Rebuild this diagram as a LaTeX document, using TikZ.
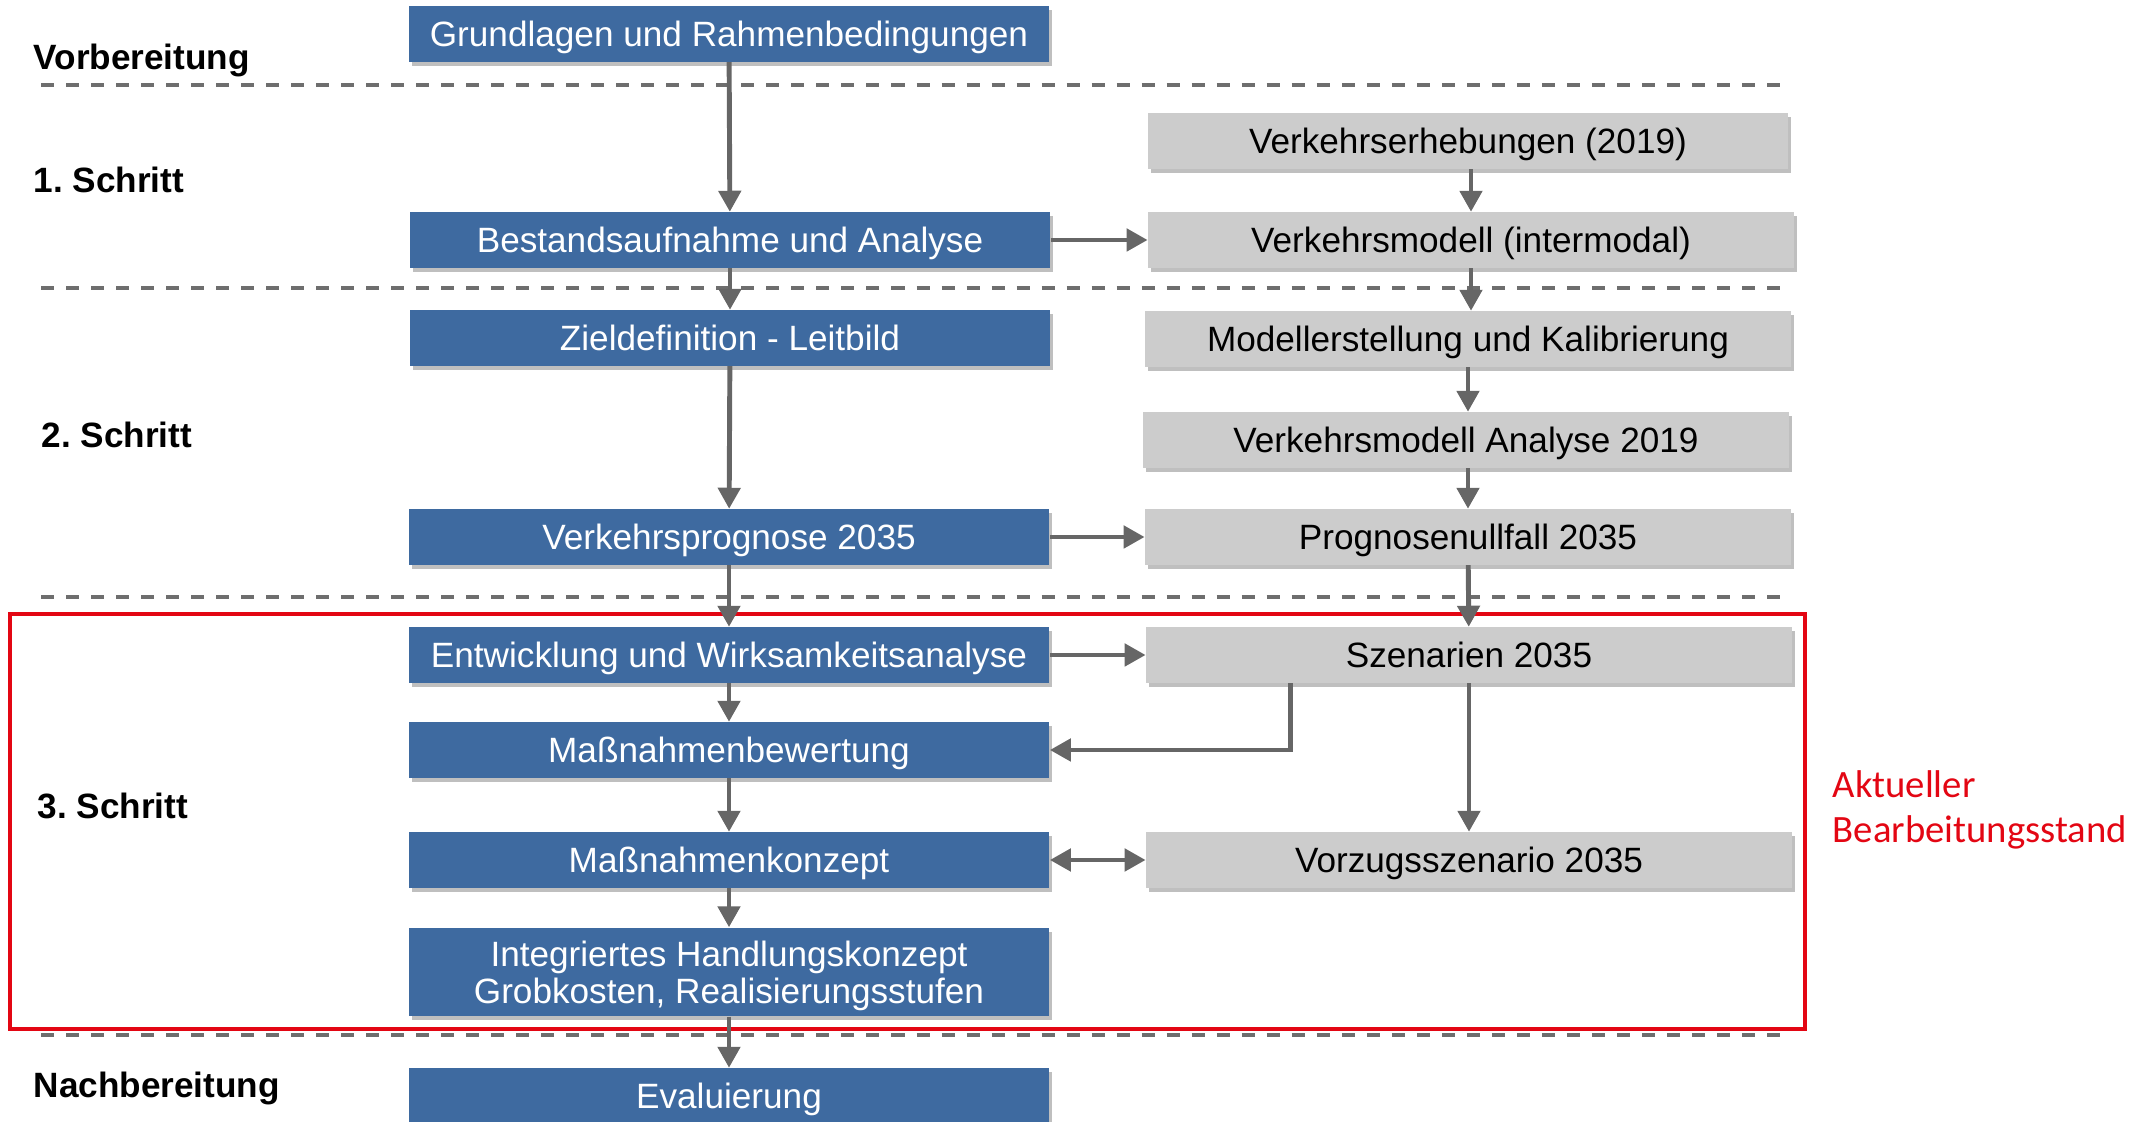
\documentclass[tikz,border=0pt]{standalone}
\usepackage{fontspec}
\setmainfont{Liberation Sans}
\newfontfamily\calibrifont{Carlito}
\usepackage{xcolor}
\usepackage{tikz}
\usetikzlibrary{arrows.meta,positioning,calc,shadows}
\definecolor{boxblue}{RGB}{62,106,160}
\definecolor{boxgray}{RGB}{204,204,204}
\definecolor{arrowgray}{RGB}{102,102,102}
\definecolor{phasegray}{RGB}{110,110,110}
\definecolor{markred}{RGB}{227,6,19}
\frenchspacing

\begin{document}
\begin{tikzpicture}[
    x=0.01cm, y=-0.01cm,
    bluebox/.style={fill=boxblue, text=white, minimum width=6.4cm, minimum height=0.55cm, inner sep=0pt,
        font=\fontsize{10}{10.5}\selectfont, align=center, text height=7.2pt, text depth=0pt,
        drop shadow={shadow xshift=0.03cm, shadow yshift=-0.04cm, opacity=0.25, fill=black}},
    graybox/.style={fill=boxgray, text=black, minimum width=6.45cm, minimum height=0.55cm, inner sep=0pt,
        font=\fontsize{10}{12}\selectfont, text height=7.2pt, text depth=0pt,
        drop shadow={shadow xshift=0.03cm, shadow yshift=-0.04cm, opacity=0.25, fill=black}},
    phaselabel/.style={font=\bfseries\fontsize{10}{12}\selectfont, text=black, anchor=west, inner sep=0pt,
        text height=7.2pt, text depth=0pt},
    phase/.style={draw=phasegray, line width=1.1pt, dash pattern=on 0.13cm off 0.12cm},
    arr/.style={draw=arrowgray, line width=1.4pt, -{Triangle[width=0.22cm, length=0.21cm]}},
    dblarr/.style={draw=arrowgray, line width=1.4pt, {Triangle[width=0.22cm, length=0.21cm]}-{Triangle[width=0.22cm, length=0.21cm]}}
]
    \useasboundingbox (0,0) rectangle (2144,1122);

    % Phase separators and labels
    \foreach \y in {85, 288, 597, 1035} {
        \draw[phase] (41,\y) -- (1788,\y);
    }
    \node[phaselabel] (l_vor) at (33, 57) {Vorbereitung};
    \node[phaselabel] (l_s1) at (33, 180) {1. Schritt};
    \node[phaselabel] (l_s2) at (41, 435) {2. Schritt};
    \node[phaselabel] (l_s3) at (37, 806) {3. Schritt};
    \node[phaselabel] (l_nach) at (33, 1085) {Nachbereitung};

    % Current status frame
    \draw[markred, line width=1.4pt] (10,614) rectangle (1805,1029);
    \node[text=markred, anchor=west, align=left, inner sep=0pt, font=\calibrifont\fontsize{11}{12.8}\selectfont] (status) at (1832, 810) {Aktueller\\Bearbeitungsstand};

    % Main process (left column)
    \node[bluebox] (grund) at (729, 34) {Grundlagen und Rahmenbedingungen};
    \node[bluebox] (bestand) at (730, 240) {Bestandsaufnahme und Analyse};
    \node[bluebox] (ziel) at (730, 338) {Zieldefinition - Leitbild};
    \node[bluebox] (prognose) at (729, 537) {Verkehrsprognose 2035};
    \node[bluebox] (entw) at (729, 655) {Entwicklung und Wirksamkeitsanalyse};
    \node[bluebox] (bewert) at (729, 750) {Maßnahmenbewertung};
    \node[bluebox] (konzept) at (729, 860) {Maßnahmenkonzept};
    \node[bluebox, minimum height=0.88cm, text height=17.7pt] (integr) at (729, 972) {Integriertes Handlungskonzept\\Grobkosten, Realisierungsstufen};
    \node[bluebox] (eval) at (729, 1096) {Evaluierung};

    % Traffic model (right column)
    \node[graybox, minimum width=6.4cm] (erheb) at (1468, 141) {Verkehrserhebungen (2019)};
    \node[graybox] (modell) at (1471, 240) {Verkehrsmodell (intermodal)};
    \node[graybox] (kalib) at (1468, 339) {Modellerstellung und Kalibrierung};
    \node[graybox] (analyse) at (1466, 440) {Verkehrsmodell Analyse 2019};
    \node[graybox] (null) at (1468, 537) {Prognosenullfall 2035};
    \node[graybox] (szen) at (1469, 655) {Szenarien 2035};
    \node[graybox] (vorzug) at (1469, 860) {Vorzugsszenario 2035};

    % Arrows: left column
    \draw[arr] (grund) -- (bestand);
    \draw[arr] (bestand) -- (ziel);
    \draw[arr] (ziel) -- (prognose);
    \draw[arr] (prognose) -- (entw);
    \draw[arr] (entw) -- (bewert);
    \draw[arr] (bewert) -- (konzept);
    \draw[arr] (konzept) -- (integr);
    \draw[arr] (integr) -- (eval);

    % Arrows: right column
    \draw[arr] (erheb.south -| modell) -- (modell.north);
    \draw[arr] (modell.south) -- (modell.south |- kalib.north);
    \draw[arr] (kalib.south) -- (kalib.south |- analyse.north);
    \draw[arr] (analyse.south -| null) -- (null.north);
    \draw[arr] (null) -- (szen);
    \draw[arr] (szen) -- (vorzug);

    % Arrows: between columns
    \draw[arr] (bestand) -- (modell);
    \draw[arr] (prognose) -- (null);
    \draw[arr] (entw) -- (szen);
    \draw[dblarr] (konzept) -- (vorzug);
    \draw[arr] ([xshift=-1.78cm]szen.south) |- (bewert.east);

\end{tikzpicture}
\end{document}
